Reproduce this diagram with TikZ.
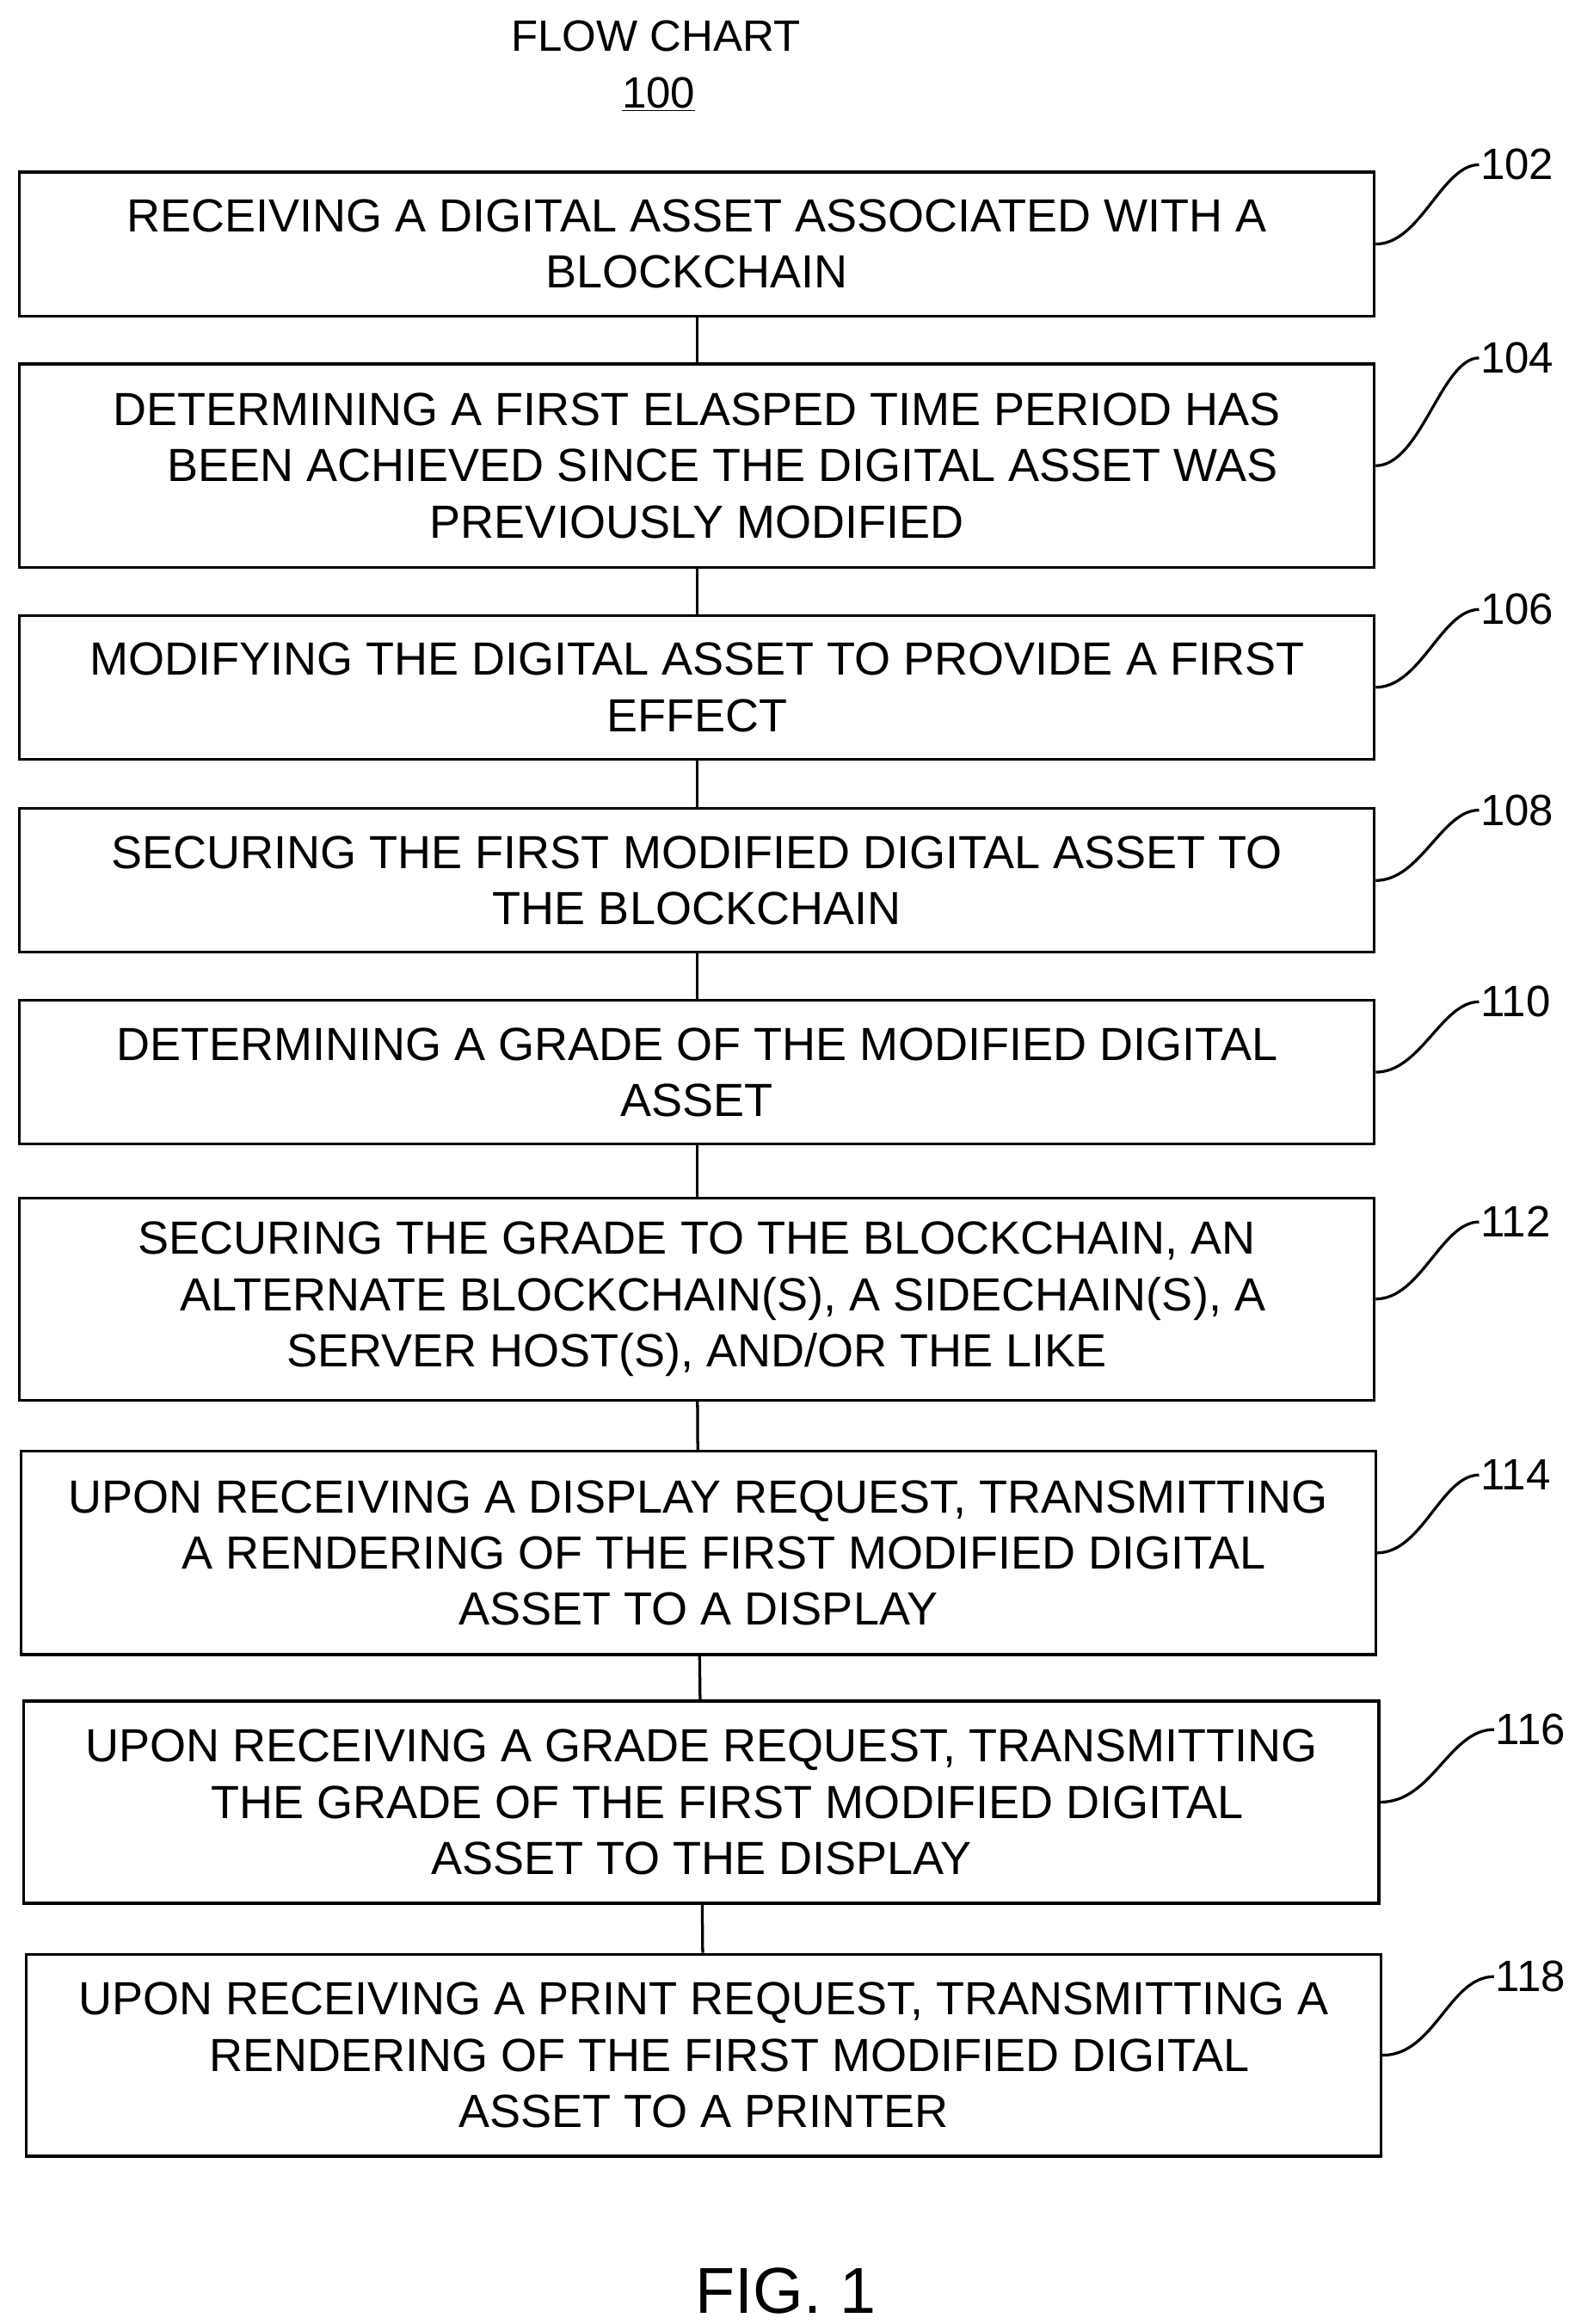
\documentclass[tikz,border=0pt]{standalone}
\usepackage{fontspec}
\setmainfont{Liberation Sans}
\begin{document}
\begin{tikzpicture}[x=0.03cm,y=-0.03cm,line width=1.6pt,
  stepbox/.style={draw,minimum width=27.15cm,align=center,inner sep=0pt,font=\fontsize{26.5}{32}\selectfont},
  lbl/.style={font=\fontsize{25}{30}\selectfont,anchor=west,inner sep=0pt}]
\useasboundingbox (0,0) rectangle (1052,1552);
\node[font=\fontsize{25}{30}\selectfont] (title) at (438,24) {FLOW CHART};
\node[font=\fontsize{25}{30}\selectfont] (num) at (440,63) {\underline{100}};
\node[stepbox,minimum height=2.88cm] (s102) at (465.5,163) {RECEIVING A DIGITAL ASSET ASSOCIATED WITH A\\BLOCKCHAIN};
\node[stepbox,minimum height=4.08cm] (s104) at (465.5,311) {DETERMINING A FIRST ELASPED TIME PERIOD HAS\\\ \ \ \ BEEN ACHIEVED SINCE THE DIGITAL ASSET WAS\\PREVIOUSLY MODIFIED};
\node[stepbox,minimum height=2.88cm] (s106) at (465.5,459) {MODIFYING THE DIGITAL ASSET TO PROVIDE A FIRST\\EFFECT};
\node[stepbox,minimum height=2.88cm] (s108) at (465.5,588) {SECURING THE FIRST MODIFIED DIGITAL ASSET TO\\THE BLOCKCHAIN};
\node[stepbox,minimum height=2.88cm] (s110) at (465.5,716) {DETERMINING A GRADE OF THE MODIFIED DIGITAL\\ASSET};
\node[stepbox,minimum height=4.05cm] (s112) at (465.5,867.5) {SECURING THE GRADE TO THE BLOCKCHAIN, AN\\\ \ \ \ ALTERNATE BLOCKCHAIN(S), A SIDECHAIN(S), A\\SERVER HOST(S), AND/OR THE LIKE};
\node[stepbox,minimum height=4.08cm] (s114) at (466.5,1037) {UPON RECEIVING A DISPLAY REQUEST, TRANSMITTING\\\ \ \ \ A RENDERING OF THE FIRST MODIFIED DIGITAL\\ASSET TO A DISPLAY};
\node[stepbox,minimum height=4.05cm] (s116) at (468.5,1203.5) {UPON RECEIVING A GRADE REQUEST, TRANSMITTING\\\ \ \ \ THE GRADE OF THE FIRST MODIFIED DIGITAL\\ASSET TO THE DISPLAY};
\node[stepbox,minimum height=4.05cm] (s118) at (470,1372.5) {UPON RECEIVING A PRINT REQUEST, TRANSMITTING A\\\ \ \ \ RENDERING OF THE FIRST MODIFIED DIGITAL\\ASSET TO A PRINTER};
% connectors
\draw (s102) -- (s104);
\draw (s104) -- (s106);
\draw (s106) -- (s108);
\draw (s108) -- (s110);
\draw (s110) -- (s112);
\draw (s112) -- (s114);
\draw (s114) -- (s116);
\draw (s116) -- (s118);
% reference numerals
\node[lbl] (n102) at (988,110) {102};
\node[lbl] (n104) at (988,239) {104};
\node[lbl] (n106) at (988,407) {106};
\node[lbl] (n108) at (988,541) {108};
\node[lbl] (n110) at (988,669) {110};
\node[lbl] (n112) at (988,816) {112};
\node[lbl] (n114) at (988,985) {114};
\node[lbl] (n116) at (998,1155) {116};
\node[lbl] (n118) at (998,1320) {118};
\draw (s102.east) .. controls +(30,0) and +(-25,0) .. (n102.west);
\draw (s104.east) .. controls +(30,0) and +(-25,0) .. (n104.west);
\draw (s106.east) .. controls +(30,0) and +(-25,0) .. (n106.west);
\draw (s108.east) .. controls +(30,0) and +(-25,0) .. (n108.west);
\draw (s110.east) .. controls +(30,0) and +(-25,0) .. (n110.west);
\draw (s112.east) .. controls +(30,0) and +(-25,0) .. (n112.west);
\draw (s114.east) .. controls +(30,0) and +(-25,0) .. (n114.west);
\draw (s116.east) .. controls +(35,0) and +(-30,0) .. (n116.west);
\draw (s118.east) .. controls +(35,0) and +(-30,0) .. (n118.west);
\node[font=\fontsize{37}{44}\selectfont] (fig) at (525,1530) {FIG. 1};
\end{tikzpicture}
\end{document}
